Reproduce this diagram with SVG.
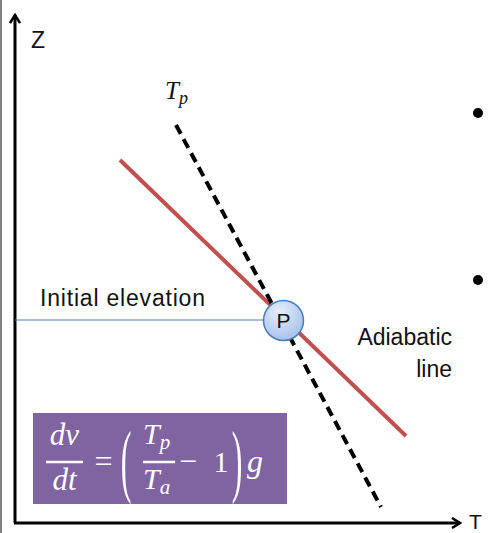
<svg xmlns="http://www.w3.org/2000/svg" width="488" height="533" viewBox="0 0 488 533">
<defs>
<style>
.lbl{font-family:"Liberation Sans",Arial,sans-serif;fill:#111}
.mth{font-family:"Liberation Serif","DejaVu Serif",serif;font-style:italic;fill:#fff}
.mthu{font-family:"Liberation Serif","DejaVu Serif",serif;fill:#fff}
.axis{stroke:#000;stroke-width:3;fill:none}
</style>
<marker id="arr" viewBox="0 0 12 12" refX="10" refY="6" markerWidth="12" markerHeight="12" markerUnits="userSpaceOnUse" orient="auto">
<path d="M2,1 L10,6 L2,11" fill="none" stroke="#000" stroke-width="2.5"/>
</marker>
<radialGradient id="pg" cx="0.4" cy="0.3" r="0.8">
<stop offset="0" stop-color="#e6eefa"/>
<stop offset="1" stop-color="#9fbcea"/>
</radialGradient>
</defs>
<rect width="488" height="533" fill="#fff"/>
<line x1="1" y1="0" x2="1" y2="533" stroke="#808080" stroke-width="2"/>
<g id="axes">
<path class="axis" d="M15,523 L15,15" marker-end="url(#arr)"/>
<path class="axis" d="M14,523 L460,523" marker-end="url(#arr)"/>
<text class="lbl" x="31" y="48" font-size="23">Z</text>
<text class="lbl" x="469" y="529" font-size="21">T</text>
</g>
<g id="connectors">
<line x1="15" y1="320" x2="264" y2="320" stroke="#4a7ebb" stroke-width="1.2"/>
<line x1="120" y1="160" x2="406" y2="436" stroke="#c0504d" stroke-width="4"/>
<line x1="176" y1="125" x2="381" y2="507" stroke="#000" stroke-width="4" stroke-dasharray="10,6"/>
</g>
<g id="tp-label">
<text class="mth" style="fill:#111" x="165" y="99" font-size="25">T<tspan font-size="18" dy="5">p</tspan></text>
</g>
<g id="initial-elevation">
<text class="lbl" x="40" y="306" font-size="23" textLength="165">Initial elevation</text>
</g>
<g id="adiabatic-line">
<text class="lbl" x="452" y="345" font-size="23" text-anchor="end">Adiabatic</text>
<text class="lbl" x="452" y="377" font-size="23" text-anchor="end">line</text>
</g>
<g id="P">
<circle cx="283.5" cy="320.5" r="20" fill="url(#pg)" stroke="#4a7ebb" stroke-width="1.5"/>
<text class="lbl" x="283.5" y="328" font-size="21" text-anchor="middle">P</text>
</g>
<g id="bullets">
<circle cx="478" cy="113" r="5" fill="#000"/>
<circle cx="478" cy="280" r="5" fill="#000"/>
</g>
<g id="formula">
<rect x="33" y="413" width="254" height="91" fill="#8064a2"/>
<text class="mth" x="64.5" y="445" font-size="31" text-anchor="middle">dv</text>
<line x1="46" y1="462" x2="83" y2="462" stroke="#fff" stroke-width="2.5"/>
<text class="mth" x="64.5" y="490" font-size="31" text-anchor="middle">dt</text>
<text class="mthu" x="103.5" y="472" font-size="32" text-anchor="middle">=</text>
<text class="mthu" transform="translate(126,487) scale(1,2.5)" font-size="32" text-anchor="middle">(</text>
<text class="mth" x="143" y="444" font-size="30">T<tspan font-size="21" dy="5">p</tspan></text>
<line x1="143" y1="462" x2="175" y2="462" stroke="#fff" stroke-width="2.5"/>
<text class="mth" x="143" y="489" font-size="30">T<tspan font-size="21" dy="5">a</tspan></text>
<text class="mthu" x="188" y="472" font-size="32" text-anchor="middle">−</text>
<text class="mthu" x="221" y="472" font-size="30" text-anchor="middle">1</text>
<text class="mthu" transform="translate(237,487) scale(1,2.5)" font-size="32" text-anchor="middle">)</text>
<text class="mth" x="247" y="472" font-size="32">g</text>
</g>
</svg>
